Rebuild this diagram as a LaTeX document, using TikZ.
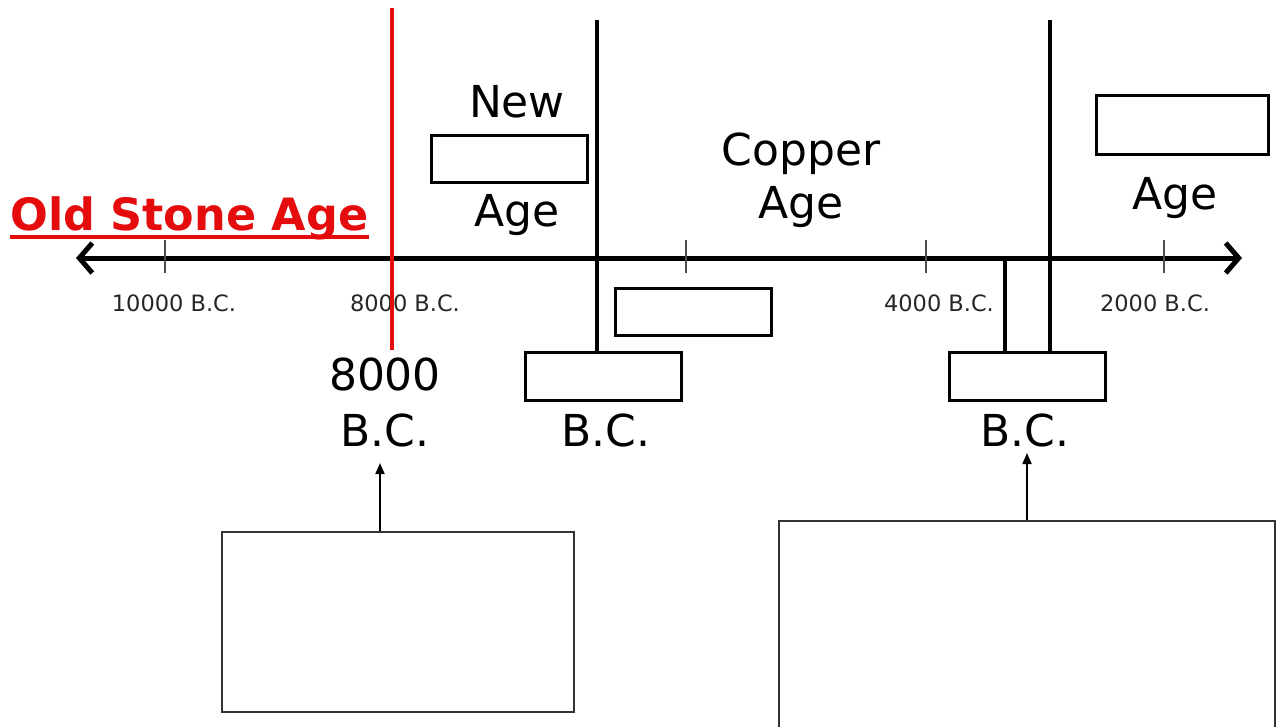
\documentclass[tikz,border=0pt]{standalone}
\usepackage{fontspec}
\setmainfont{DejaVu Sans}
\usetikzlibrary{arrows.meta}
\definecolor{agered}{RGB}{228,12,12}
\begin{document}
\begin{tikzpicture}[x=1pt,y=-1pt,
  big/.style={font=\fontsize{44}{50}\selectfont, inner sep=0pt, anchor=base},
  small/.style={font=\fontsize{22.5}{26}\selectfont, inner sep=0pt, anchor=base, text=black!85},
  blank/.style={draw, line width=2.6pt, inner sep=0pt, anchor=north west},
  bar/.style={line width=3.6pt},
  tick/.style={line width=1.3pt, black!70},
  up/.style={line width=1.8pt, -{Triangle[length=11pt,width=9pt]}}]
\useasboundingbox (0,0) rectangle (1276,726);
% timeline
\coordinate (tl) at (76,258);
\coordinate (tr) at (1242,258);
\draw[line width=5pt, {Straight Barb[length=13pt,width=30pt,line width=5pt]}-{Straight Barb[length=13pt,width=30pt,line width=5pt]}] (tl) -- (tr);
% ticks
\foreach \x [count=\i] in {165,392,686,926,1164}{
  \coordinate (t\i a) at (\x,240);
  \coordinate (t\i b) at (\x,273);
  \draw[tick] (t\i a) -- (t\i b);
}
% small year labels
\node[small] (l1) at (174,311) {10000 B.C.};
\node[small] (l2) at (405,311) {8000 B.C.};
\node[small] (l3) at (939,311) {4000 B.C.};
\node[small] (l4) at (1155,311) {2000 B.C.};
% blank boxes
\node[blank, minimum width=156pt, minimum height=47pt] (b1) at (430,134) {};
\node[blank, minimum width=156pt, minimum height=47pt] (b2) at (614,287) {};
\node[blank, minimum width=156pt, minimum height=48pt] (b3) at (524,351) {};
\node[blank, minimum width=156pt, minimum height=48pt] (b4) at (948,351) {};
\node[blank, minimum width=172pt, minimum height=59pt] (b5) at (1095,94) {};
\node[blank, line width=2pt, draw=black!80, minimum width=352pt, minimum height=180pt] (b6) at (221,531) {};
\node[blank, line width=2pt, draw=black!80, minimum width=496pt, minimum height=215pt] (b7) at (778,520) {};
% vertical dividers
\coordinate (r1) at (392,8);
\coordinate (r2) at (392,350);
\draw[bar, agered] (r1) -- (r2);
\coordinate (v1) at (597,20);
\draw[bar] (v1) -- (v1 |- b3.north);
\coordinate (v2) at (1050,20);
\draw[bar] (v2) -- (v2 |- b4.north);
\coordinate (v3) at (1005,258);
\draw[bar] (v3) -- (v3 |- b4.north);
% big labels
\node[big] (new) at (517,117) {New};
\node[big] (age1) at (517,226) {Age};
\node[big] (cop) at (801,165) {Copper};
\node[big] (age2) at (801,218) {Age};
\node[big] (age3) at (1175,209) {Age};
\node[big] (y8000) at (385,390) {8000};
\node[big] (bc1) at (385,446) {B.C.};
\node[big] (bc2) at (606,446) {B.C.};
\node[big] (bc3) at (1025,446) {B.C.};
% title
\node[big, anchor=base west, text=agered, font=\fontsize{44.5}{50}\selectfont\bfseries] (old) at (10,230) {Old Stone Age};
\draw[agered, line width=3.5pt] ([yshift=-7pt]old.base west) -- ([yshift=-7pt]old.base east);
% arrows from boxes
\coordinate (a1) at (380,463);
\draw[up] (b6.north -| a1) -- (a1);
\coordinate (a2) at (1027,453);
\draw[up] (b7.north -| a2) -- (a2);
\end{tikzpicture}
\end{document}
